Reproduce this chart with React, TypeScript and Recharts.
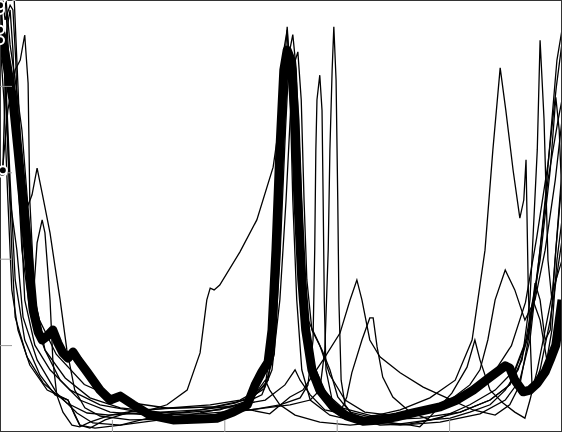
import { Line, LineChart, XAxis, YAxis } from "recharts";

type Pt = [number, number];

// x: phase (0-100), y: normalised level (0-100)
const trace1: Pt[] = [
  [0, 97.7], [0.7, 86.1], [1.4, 65.3], [2.1, 42.1], [2.7, 26.6], [4.8, 17.4], [7.7, 11.3], [11.9, 6.7],
  [15.5, 4.4], [19.6, 3.9], [24.9, 4.4], [29.7, 6.3], [33.3, 9.7], [35.6, 18.3], [36.8, 30.6], [37.4, 33.3],
  [38.1, 32.9], [39.1, 34.0], [42.7, 41.7], [45.7, 49.1], [48.6, 61.3], [49.8, 72.2], [50.7, 86.1], [51.1, 93.8],
  [51.6, 83.8], [52.3, 60.6], [53.2, 35.2], [54.3, 20.1], [56.0, 10.9], [58.7, 6.3], [62.3, 3.9], [67.6, 2.8],
  [74.7, 3.2], [81.9, 4.6], [87.2, 7.4], [90.7, 10.9], [93.4, 20.1], [96.1, 39.8], [97.9, 60.6], [98.9, 77.5],
  [99.5, 69.9], [100, 53.7],
];

const trace2: Pt[] = [
  [0.2, 100], [1.1, 76.9], [1.8, 53.7], [3.0, 42.1], [4.1, 26.6], [6.6, 16.7], [10.1, 9.0], [13.7, 4.4],
  [16.5, 2.1], [21.4, 1.6], [28.5, 2.8], [35.6, 4.4], [42.7, 6.3], [46.6, 8.6], [48.4, 14.4], [49.8, 30.6],
  [50.9, 53.7], [51.8, 76.9], [52.3, 85.0], [53.0, 88.0], [53.6, 76.9], [54.1, 53.7], [54.6, 35.2], [55.5, 23.6],
  [57.3, 19.0], [58.7, 14.4], [60.1, 8.1], [62.3, 4.6], [65.8, 3.5], [71.2, 5.1], [76.5, 7.9], [81.0, 12.0],
  [84.0, 21.3], [86.3, 42.1], [87.7, 65.3], [89.0, 84.3], [90.0, 74.5], [91.3, 60.6], [92.5, 49.5], [93.2, 53.7],
  [93.6, 63.0], [94.0, 32.9], [94.7, 9.7], [96.1, 14.4], [97.9, 25.9], [100, 44.4],
];

const trace3: Pt[] = [
  [0.4, 60.0], [1.4, 74.5], [2.7, 83.8], [3.6, 86.1], [4.4, 91.9], [5.0, 80.8], [5.3, 53.7], [6.2, 30.6],
  [8.0, 19.0], [10.7, 12.0], [14.2, 7.4], [19.6, 4.6], [26.7, 3.9], [35.6, 4.2], [44.5, 5.1], [49.8, 6.3],
  [53.4, 7.9], [54.8, 10.9], [55.7, 21.3], [56.0, 42.1], [56.2, 65.3], [56.4, 76.9], [56.9, 82.6], [57.3, 74.5],
  [57.5, 53.7], [57.7, 30.6], [58.0, 14.4], [59.1, 7.4], [61.4, 4.6], [65.8, 2.8], [71.2, 1.9], [76.5, 2.8],
  [81.9, 4.6], [87.2, 7.4], [90.7, 10.9], [92.9, 16.7], [94.3, 30.6], [95.6, 65.3], [96.1, 90.7], [96.8, 72.5],
  [97.5, 39.8], [98.2, 30.6], [98.9, 42.1], [100, 58.3],
];

const trace4: Pt[] = [
  [0.9, 101], [1.8, 82.0], [2.7, 76.9], [3.9, 59.5], [5.0, 52.5], [5.7, 54.9], [6.6, 61.1],
  [7.5, 55.3], [8.9, 46.1], [9.8, 38.2], [10.7, 30.6], [11.9, 19.0], [13.3, 9.7], [15.1, 5.6], [17.8, 3.7],
  [23.1, 2.8], [30.2, 3.0], [37.4, 3.9], [44.5, 5.1], [51.6, 6.3], [55.2, 7.4], [56.9, 9.7], [57.8, 19.0],
  [58.4, 42.1], [58.7, 65.3], [59.1, 83.8], [59.4, 93.8], [59.8, 81.5], [60.1, 53.7], [60.3, 30.6], [60.7, 12.0],
  [61.4, 6.3], [63.2, 3.2], [67.6, 1.6], [73.0, 1.9], [78.3, 3.2], [83.6, 6.3], [88.1, 9.7], [91.6, 14.4],
  [94.3, 23.6], [96.1, 42.1], [97.5, 58.3], [98.4, 65.3], [99.3, 72.2], [100, 76.9],
];

const trace5: Pt[] = [
  [1.0, 101], [1.8, 89.6], [2.7, 81.5], [3.9, 69.9], [5.3, 46.8], [5.9, 30.6], [6.6, 43.8],
  [7.5, 49.1], [8.0, 46.1], [8.9, 30.6], [9.4, 16.7], [10.1, 8.6], [11.2, 4.6], [12.8, 1.6], [14.2, 1.2],
  [16.0, 2.3], [19.6, 3.9], [24.9, 5.1], [32.0, 5.6], [39.1, 5.8], [44.5, 5.1], [48.0, 4.2], [51.6, 8.1],
  [53.9, 9.7], [57.5, 16.7], [60.5, 22.9], [62.3, 30.6], [63.5, 35.2], [64.4, 30.6], [65.8, 21.3], [67.6, 17.4],
  [71.2, 13.7], [75.3, 10.4], [79.5, 7.9], [84.2, 5.1], [88.1, 3.9], [90.7, 6.3], [92.5, 10.9], [94.0, 21.3],
  [95.2, 34.5], [96.1, 30.6], [97.0, 21.3], [97.9, 23.6], [98.9, 42.1], [100, 60.6],
];

const trace6: Pt[] = [
  [0, 90.7], [0.7, 76.9], [1.4, 53.7], [2.1, 32.9], [3.2, 23.6], [5.3, 15.5], [8.4, 9.7], [12.1, 7.4],
  [14.2, 1.6], [16.9, 0.9], [21.4, 1.6], [28.5, 3.9], [35.6, 5.1], [42.7, 6.3], [47.2, 7.4], [50.7, 10.9],
  [52.5, 14.4], [53.4, 12.0], [55.2, 8.6], [57.8, 5.1], [60.5, 4.4], [61.7, 8.1], [62.6, 13.7], [64.4, 21.3],
  [65.8, 26.4], [66.4, 26.4], [67.1, 19.7], [68.1, 12.7], [69.9, 8.1], [73.0, 4.6], [76.5, 2.8], [80.1, 3.2],
  [83.6, 4.6], [87.2, 6.3], [89.9, 9.7], [92.2, 14.4], [93.8, 21.3], [94.8, 30.6], [96.1, 25.9], [97.3, 16.7],
  [98.2, 23.6], [99.1, 39.8], [100, 49.1],
];

const trace7: Pt[] = [
  [0, 98.8], [0.5, 93.1], [1.1, 79.2], [1.8, 58.3], [2.7, 35.2], [4.4, 21.3], [7.1, 13.2], [9.8, 8.6],
  [12.1, 7.4], [13.3, 3.9], [14.2, 1.6], [16.0, 0.9], [18.7, 2.8], [23.1, 4.6], [30.2, 5.6], [37.4, 6.3],
  [42.7, 7.4], [45.9, 9.7], [47.2, 12.0], [48.0, 9.7], [49.8, 6.3], [52.5, 3.9], [56.9, 2.3], [62.3, 1.6],
  [67.6, 2.3], [73.0, 1.6], [74.7, 1.2], [76.5, 3.5], [80.4, 9.0], [83.1, 15.0], [84.5, 21.3], [85.4, 16.7],
  [87.2, 9.7], [89.5, 6.7], [91.6, 4.6], [93.4, 3.2], [94.3, 7.4], [95.6, 14.4], [97.0, 23.6], [98.4, 32.9],
  [100, 39.8],
];

const trace8: Pt[] = [
  [0.4, 101], [0.9, 95.4], [1.8, 98.8], [2.3, 97.7], [2.8, 86.1], [3.6, 53.7], [4.4, 30.6], [6.2, 20.1],
  [8.9, 14.4], [12.5, 9.7], [17.8, 6.3], [24.9, 4.6], [32.0, 4.4], [39.1, 5.1], [44.5, 7.4], [47.2, 10.9],
  [48.4, 21.3], [49.3, 49.1], [50.0, 72.2], [50.5, 88.4], [51.1, 93.1], [51.6, 79.2], [52.1, 53.7], [52.8, 30.6],
  [53.7, 14.4], [55.2, 7.4], [58.7, 3.9], [64.1, 2.3], [71.2, 1.6], [78.3, 2.3], [85.4, 4.2], [89.9, 7.4],
  [92.5, 12.0], [94.3, 21.3], [95.7, 37.5], [97.0, 53.7], [98.2, 72.2], [99.1, 86.1], [100, 93.1],
];

const trace9: Pt[] = [
  [0.5, 60.6], [1.2, 93.1], [1.8, 97.7], [2.3, 88.4], [3.0, 63.0], [3.9, 42.1], [5.3, 28.2],
  [8.0, 19.0], [11.6, 12.5], [16.0, 7.9], [21.4, 5.6], [28.5, 4.6], [35.6, 5.1], [41.8, 6.7], [45.4, 8.6],
  [47.7, 12.0], [48.9, 23.6], [49.6, 44.4], [50.4, 69.9], [50.9, 83.8], [51.4, 88.4], [52.0, 81.5], [52.5, 60.6],
  [53.2, 42.1], [53.9, 30.6], [54.8, 25.9], [56.9, 20.1], [58.7, 13.2], [61.4, 7.4], [64.9, 4.6], [69.4, 3.9],
  [74.7, 5.1], [80.1, 7.4], [83.6, 10.9], [85.4, 14.4], [86.8, 21.3], [88.1, 30.6], [89.9, 37.5], [91.6, 32.9],
  [93.4, 25.9], [95.2, 30.6], [97.0, 42.1], [98.8, 58.3], [100, 72.2],
];

const trace10: Pt[] = [
  [2.5, 101], [3.2, 80.0], [4.0, 55.0], [5.0, 38.0], [7.0, 26.0], [10.0, 18.0], [15.0, 11.0], [22.0, 7.0],
  [30.0, 5.5], [38.0, 5.8], [44.0, 7.5], [47.0, 10.0], [48.8, 18.0], [49.8, 40.0], [50.8, 70.0], [51.5, 88.0],
  [52.1, 92.0], [52.7, 84.0], [53.3, 65.0], [54.0, 42.0], [54.8, 25.0], [56.0, 15.0], [58.0, 9.0], [61.0, 5.5],
  [66.0, 3.8], [72.0, 4.2], [78.0, 6.0], [84.0, 9.5], [88.0, 14.0], [91.0, 20.0], [93.5, 30.0], [95.5, 45.0],
  [97.5, 62.0], [99.0, 80.0], [100, 90.0],
];

const meanTrace: Pt[] = [
  [0, 93.1], [0.5, 90.7], [1.4, 83.8], [2.3, 76.9], [3.2, 65.3], [3.9, 56.0], [4.8, 44.4], [5.9, 28.2],
  [6.8, 23.1], [7.5, 21.3], [8.4, 22.2], [9.4, 23.6], [10.3, 20.6], [11.2, 18.3], [12.1, 17.1], [13.0, 18.5],
  [13.9, 16.7], [15.5, 13.9], [17.8, 9.7], [19.6, 7.4], [21.4, 8.3], [23.7, 6.3], [26.7, 3.9], [30.8, 2.8],
  [35.6, 3.0], [38.6, 3.2], [41.5, 4.6], [44.0, 6.3], [45.4, 10.9], [46.6, 13.9], [47.7, 16.2], [48.4, 23.6],
  [49.1, 42.1], [49.8, 65.3], [50.5, 83.8], [51.1, 88.4], [51.8, 86.1], [52.5, 72.2], [53.0, 53.7], [53.7, 35.2],
  [54.4, 23.6], [55.5, 14.4], [56.9, 9.7], [59.3, 5.8], [61.7, 3.7], [64.6, 2.5], [67.6, 2.8], [70.6, 3.5],
  [73.5, 4.4], [78.3, 5.8], [81.3, 7.4], [84.2, 9.7], [87.2, 12.7], [89.9, 15.3], [90.7, 14.8], [91.6, 12.0],
  [93.1, 9.3], [94.3, 9.7], [95.6, 11.3], [97.0, 13.9], [97.9, 16.7], [98.9, 20.1], [100, 30.6],
];

const thinTraces = [trace1, trace2, trace3, trace4, trace5, trace6, trace7, trace8, trace9, trace10];

const tickValues = [20, 40, 60, 80];

const toRows = (pts: Pt[]) => pts.map(([x, y]) => ({ x, y }));

// ticks only, no labels
const NoLabel = () => <g />;

export default function App() {
  const tickStroke = { stroke: "#999", strokeWidth: 1 };
  const frame = { stroke: "#333", strokeWidth: 2 };
  return (
    <div style={{ position: "absolute", left: 0, top: 0, background: "#fff" }}>
      <LineChart width={562} height={432} margin={{ top: 0, right: 0, bottom: 0, left: 0 }}>
        <XAxis
          dataKey="x"
          type="number"
          domain={[0, 100]}
          ticks={tickValues}
          allowDataOverflow
          mirror
          tick={NoLabel}
          tickSize={12}
          tickLine={tickStroke}
          axisLine={frame}
        />
        <XAxis
          xAxisId="top"
          orientation="top"
          dataKey="x"
          type="number"
          domain={[0, 100]}
          ticks={tickValues}
          mirror
          tick={NoLabel}
          tickSize={12}
          tickLine={tickStroke}
          axisLine={frame}
        />
        <YAxis
          dataKey="y"
          type="number"
          domain={[0, 100]}
          ticks={tickValues}
          allowDataOverflow
          mirror
          tick={NoLabel}
          tickSize={12}
          tickLine={tickStroke}
          axisLine={frame}
        />
        <YAxis
          yAxisId="right"
          orientation="right"
          type="number"
          domain={[0, 100]}
          ticks={tickValues}
          mirror
          tick={NoLabel}
          tickSize={12}
          tickLine={tickStroke}
          axisLine={frame}
        />
        {thinTraces.map((t, i) => (
          <Line
            key={i}
            data={toRows(t)}
            dataKey="y"
            type="linear"
            stroke="#000"
            strokeWidth={1.3}
            dot={false}
            isAnimationActive={false}
          />
        ))}
        <Line
          data={toRows(meanTrace)}
          dataKey="y"
          type="linear"
          stroke="#000"
          strokeWidth={9}
          strokeLinejoin="round"
          dot={false}
          isAnimationActive={false}
        />
      </LineChart>
    </div>
  );
}
